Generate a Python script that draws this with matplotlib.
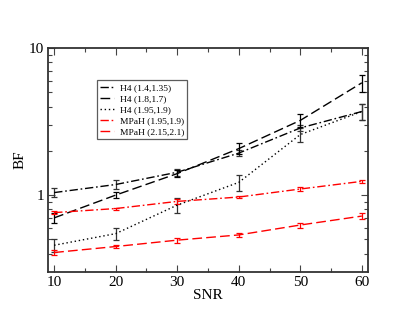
import matplotlib
matplotlib.use("Agg")
import matplotlib.pyplot as plt
from matplotlib.lines import Line2D
from matplotlib.ticker import FixedLocator, NullFormatter, FixedFormatter

plt.rcParams['font.family'] = ['Liberation Serif', 'DejaVu Serif']

snr = [10, 20, 30, 40, 50, 60]

h4_a = [1.04, 1.18, 1.43, 1.93, 2.86, 3.70]
h4_a_err = [0.07, 0.08, 0.08, 0.10, 0.14, 0.45]
h4_b = [0.70, 1.00, 1.40, 2.07, 3.22, 5.80]
h4_b_err = [0.05, 0.05, 0.07, 0.18, 0.32, 0.80]
h4_c = [0.456, 0.547, 0.855, 1.22, 2.58, 3.70]
h4_c_err = [0.046, 0.05, 0.10, 0.15, 0.28, 0.47]
mp_a = [0.76, 0.81, 0.906, 0.97, 1.10, 1.24]
mp_a_err = [0.02, 0.012, 0.03, 0.015, 0.03, 0.035]
mp_b = [0.407, 0.447, 0.494, 0.536, 0.626, 0.72]
mp_b_err = [0.015, 0.01, 0.02, 0.02, 0.025, 0.03]

labels = ['H4 (1.4,1.35)', 'H4 (1.8,1.7)', 'H4 (1.95,1.9)',
          'MPaH (1.95,1.9)', 'MPaH (2.15,2.1)']

fig = plt.figure(figsize=(4.15, 3.21), dpi=100)
ax = fig.add_axes([48/415, 1-272/321, 320/415, 224/321])

lw = 1.0
cs = 2.5
dd = [6, 2, 1.2, 2]
da = [7, 3]
do = [1, 2]
series = [
    (h4_a, h4_a_err, 'black', '#333333', dd),
    (h4_b, h4_b_err, 'black', 'black', da),
    (h4_c, h4_c_err, 'black', '#333333', do),
    (mp_a, mp_a_err, 'red', 'red', dd),
    (mp_b, mp_b_err, 'red', 'red', da),
]
handles = []
for (vals, errs, c, ec, dash), lab in zip(series, labels):
    ax.errorbar(snr, vals, yerr=errs, color=c, ecolor=ec, lw=lw, dashes=dash,
                capsize=cs, elinewidth=0.9, capthick=0.9)
    handles.append(Line2D([], [], color=c, lw=lw, dashes=dash, label=lab))

ax.set_yscale('log')
ax.set_xlim(9, 61)
ax.set_ylim(0.3, 10)
ax.set_xticks(snr)
ax.set_xticks([15, 25, 35, 45, 55], minor=True)
ax.yaxis.set_major_locator(FixedLocator([1, 10]))
ax.yaxis.set_major_formatter(FixedFormatter(['1', '10']))
ax.yaxis.set_minor_locator(FixedLocator([0.4, 0.5, 0.6, 0.7, 0.8, 0.9, 2, 3, 4, 5, 6, 7, 8, 9]))
ax.yaxis.set_minor_formatter(NullFormatter())
ax.tick_params(which='both', direction='in', top=True, right=True, labelsize=11, pad=3)
ax.tick_params(which='major', length=5, width=0.8, color='#444444')
ax.tick_params(which='minor', length=3, width=0.8, color='#444444')
for s in ax.spines.values():
    s.set_linewidth(1.3)
    s.set_color('#333333')

ax.set_xlabel('SNR', fontsize=11, labelpad=0)
ax.set_ylabel('BF', fontsize=11)
ax.yaxis.set_label_coords(-0.066, 0.5)

leg = ax.legend(handles=handles, loc='upper left', bbox_to_anchor=(0.152, 0.857),
                fontsize=6.8, frameon=True, fancybox=False, handlelength=1.5,
                handletextpad=0.6, borderpad=0.35, labelspacing=0.25, borderaxespad=0)
leg.get_frame().set_edgecolor('#333333')
leg.get_frame().set_linewidth(0.9)

fig.savefig('out.png', dpi=100)
